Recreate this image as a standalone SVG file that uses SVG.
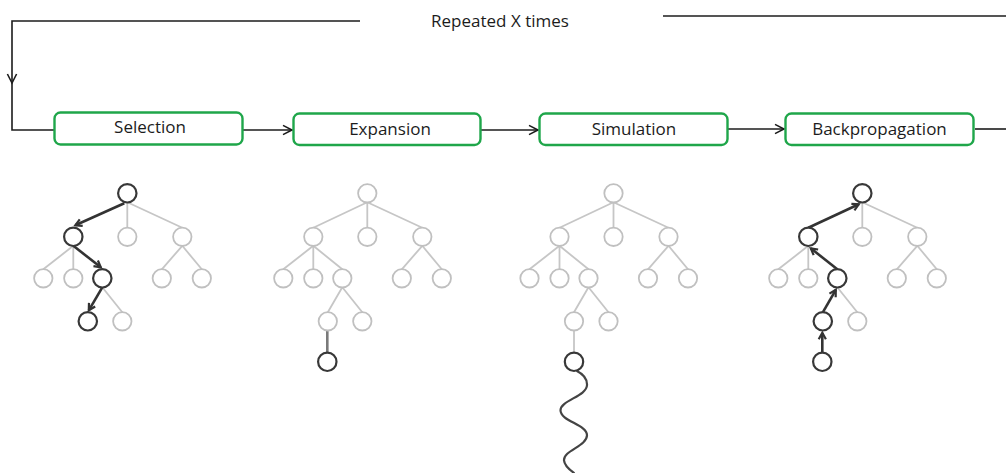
<svg xmlns="http://www.w3.org/2000/svg" width="1006" height="473" viewBox="0 0 1006 473">
<style>
.lbl{font-family:"Open Sans","Liberation Sans",sans-serif;font-size:17px;fill:#1c1c1c;text-anchor:middle}
.box{fill:#fff;stroke:#1fa64a;stroke-width:2.4}
.flow{fill:none;stroke:#1c1c1c;stroke-width:1.6}
.le{fill:none;stroke:#c6c6c6;stroke-width:1.8}
.de{fill:none;stroke:#333;stroke-width:2.6}
.ln{fill:#fff;stroke:#c0c0c0;stroke-width:1.8}
.dn{fill:#fff;stroke:#383838;stroke-width:2.2}
</style>
<defs>
<marker id="fa" markerUnits="userSpaceOnUse" viewBox="-11 -6 13 12" refX="0" refY="0" markerWidth="13" markerHeight="12" orient="auto">
<path d="M-9,-4.6 L0,0 L-9,4.6" fill="none" stroke="#1c1c1c" stroke-width="1.6"/>
</marker>
<marker id="ta" markerUnits="userSpaceOnUse" viewBox="-9 -5 11 10" refX="0" refY="0" markerWidth="11" markerHeight="10" orient="auto">
<path d="M-6.5,-3.6 L0,0 L-6.5,3.6" fill="none" stroke="#333" stroke-width="2.2"/>
</marker>
</defs>
<rect width="1006" height="473" fill="#fff"/>

<g id="connectors">
<path class="flow" d="M360,21 H12 V83" marker-end="url(#fa)"/>
<path class="flow" d="M12,83 V130 H54"/>
<path class="flow" d="M663,16 H1006"/>
<path class="flow" d="M243,130 H292" marker-end="url(#fa)"/>
<path class="flow" d="M481,130 H538" marker-end="url(#fa)"/>
<path class="flow" d="M728,129 H784" marker-end="url(#fa)"/>
<path class="flow" d="M975,129 H1006"/>
</g>

<text class="lbl" x="500" y="27">Repeated X times</text>

<g id="selection"><rect class="box" x="54.5" y="112.5" width="188" height="32" rx="6"/><text class="lbl" x="150" y="133">Selection</text></g>
<g id="expansion"><rect class="box" x="293.5" y="113.5" width="187" height="31.5" rx="6"/><text class="lbl" x="390" y="135">Expansion</text></g>
<g id="simulation"><rect class="box" x="539.5" y="113.5" width="188" height="31.5" rx="6"/><text class="lbl" x="634" y="135">Simulation</text></g>
<g id="backpropagation"><rect class="box" x="785.5" y="113.5" width="188" height="31.5" rx="6"/><text class="lbl" x="879.5" y="135">Backpropagation</text></g>

<g id="tree-selection" transform="translate(127.3,193.3)">
<path class="le" d="M0,9 L0,34.5 M0,9 L55,34.5 M-54,52.5 L-84,76 M-54,52.5 L-54,76 M55,52.5 L34.5,76 M55,52.5 L74.5,76 M-25,94 L-5,119"/>
<path class="de" d="M-3,10 L-52,32" marker-end="url(#ta)"/>
<path class="de" d="M-54,52.5 L-26.5,74" marker-end="url(#ta)"/>
<path class="de" d="M-25,94 L-38.5,117" marker-end="url(#ta)"/>
<circle class="dn" cx="0" cy="0" r="9.2"/>
<circle class="dn" cx="-54" cy="43.5" r="9.2"/>
<circle class="ln" cx="0" cy="43.5" r="9.2"/>
<circle class="ln" cx="55" cy="43.5" r="9.2"/>
<circle class="ln" cx="-84" cy="85" r="9.2"/>
<circle class="ln" cx="-54" cy="85" r="9.2"/>
<circle class="dn" cx="-25" cy="85" r="9.2"/>
<circle class="ln" cx="34.5" cy="85" r="9.2"/>
<circle class="ln" cx="74.5" cy="85" r="9.2"/>
<circle class="dn" cx="-39.5" cy="128" r="9.2"/>
<circle class="ln" cx="-5" cy="128" r="9.2"/>
</g>

<g id="tree-expansion" transform="translate(367.3,193.3)">
<path class="le" d="M0,9 L-54,34.5 M0,9 L0,34.5 M0,9 L55,34.5 M-54,52.5 L-84,76 M-54,52.5 L-54,76 M-54,52.5 L-25,76 M55,52.5 L34.5,76 M55,52.5 L74.5,76 M-25,94 L-39.5,119 M-25,94 L-5,119"/>
<path d="M-40,137 L-40,159.5" fill="none" stroke="#7a7a7a" stroke-width="2.6"/>
<circle class="ln" cx="0" cy="0" r="9.2"/>
<circle class="ln" cx="-54" cy="43.5" r="9.2"/>
<circle class="ln" cx="0" cy="43.5" r="9.2"/>
<circle class="ln" cx="55" cy="43.5" r="9.2"/>
<circle class="ln" cx="-84" cy="85" r="9.2"/>
<circle class="ln" cx="-54" cy="85" r="9.2"/>
<circle class="ln" cx="-25" cy="85" r="9.2"/>
<circle class="ln" cx="34.5" cy="85" r="9.2"/>
<circle class="ln" cx="74.5" cy="85" r="9.2"/>
<circle class="ln" cx="-39.5" cy="128" r="9.2"/>
<circle class="ln" cx="-5" cy="128" r="9.2"/>
<circle class="dn" cx="-40" cy="168.5" r="9.2"/>
</g>

<g id="tree-simulation" transform="translate(613.5,193.3)">
<path class="le" d="M0,9 L-54,34.5 M0,9 L0,34.5 M0,9 L55,34.5 M-54,52.5 L-84,76 M-54,52.5 L-54,76 M-54,52.5 L-25,76 M55,52.5 L34.5,76 M55,52.5 L74.5,76 M-25,94 L-39.5,119 M-25,94 L-5,119 M-39.5,137 L-39.5,159.5"/>
<path d="M-37,177.5 C-32,180 -26,184 -26.5,192 C-27,203 -53,207 -53,217 C-53,228 -26.5,231 -26.5,242 C-26.5,253 -50,257 -49.5,267 C-49,273 -43,277 -39,280" fill="none" stroke="#444" stroke-width="2.2"/>
<circle class="ln" cx="0" cy="0" r="9.2"/>
<circle class="ln" cx="-54" cy="43.5" r="9.2"/>
<circle class="ln" cx="0" cy="43.5" r="9.2"/>
<circle class="ln" cx="55" cy="43.5" r="9.2"/>
<circle class="ln" cx="-84" cy="85" r="9.2"/>
<circle class="ln" cx="-54" cy="85" r="9.2"/>
<circle class="ln" cx="-25" cy="85" r="9.2"/>
<circle class="ln" cx="34.5" cy="85" r="9.2"/>
<circle class="ln" cx="74.5" cy="85" r="9.2"/>
<circle class="ln" cx="-39.5" cy="128" r="9.2"/>
<circle class="ln" cx="-5" cy="128" r="9.2"/>
<circle class="dn" cx="-39.5" cy="168.5" r="9.2"/>
</g>

<g id="tree-backpropagation" transform="translate(862.3,193.3)">
<path class="le" d="M0,9 L0,34.5 M0,9 L55,34.5 M-54,52.5 L-84,76 M-54,52.5 L-54,76 M55,52.5 L34.5,76 M55,52.5 L74.5,76 M-25,94 L-5,119"/>
<path class="de" d="M-54,34.5 L-3.5,11" marker-end="url(#ta)"/>
<path class="de" d="M-25,76 L-51.5,55" marker-end="url(#ta)"/>
<path class="de" d="M-39.5,119 L-26.5,96.5" marker-end="url(#ta)"/>
<path class="de" d="M-40,159.5 L-40,139.5" marker-end="url(#ta)"/>
<circle class="dn" cx="0" cy="0" r="9.2"/>
<circle class="dn" cx="-54" cy="43.5" r="9.2"/>
<circle class="ln" cx="0" cy="43.5" r="9.2"/>
<circle class="ln" cx="55" cy="43.5" r="9.2"/>
<circle class="ln" cx="-84" cy="85" r="9.2"/>
<circle class="ln" cx="-54" cy="85" r="9.2"/>
<circle class="dn" cx="-25" cy="85" r="9.2"/>
<circle class="ln" cx="34.5" cy="85" r="9.2"/>
<circle class="ln" cx="74.5" cy="85" r="9.2"/>
<circle class="dn" cx="-39.5" cy="128" r="9.2"/>
<circle class="ln" cx="-5" cy="128" r="9.2"/>
<circle class="dn" cx="-40" cy="168.5" r="9.2"/>
</g>
</svg>
